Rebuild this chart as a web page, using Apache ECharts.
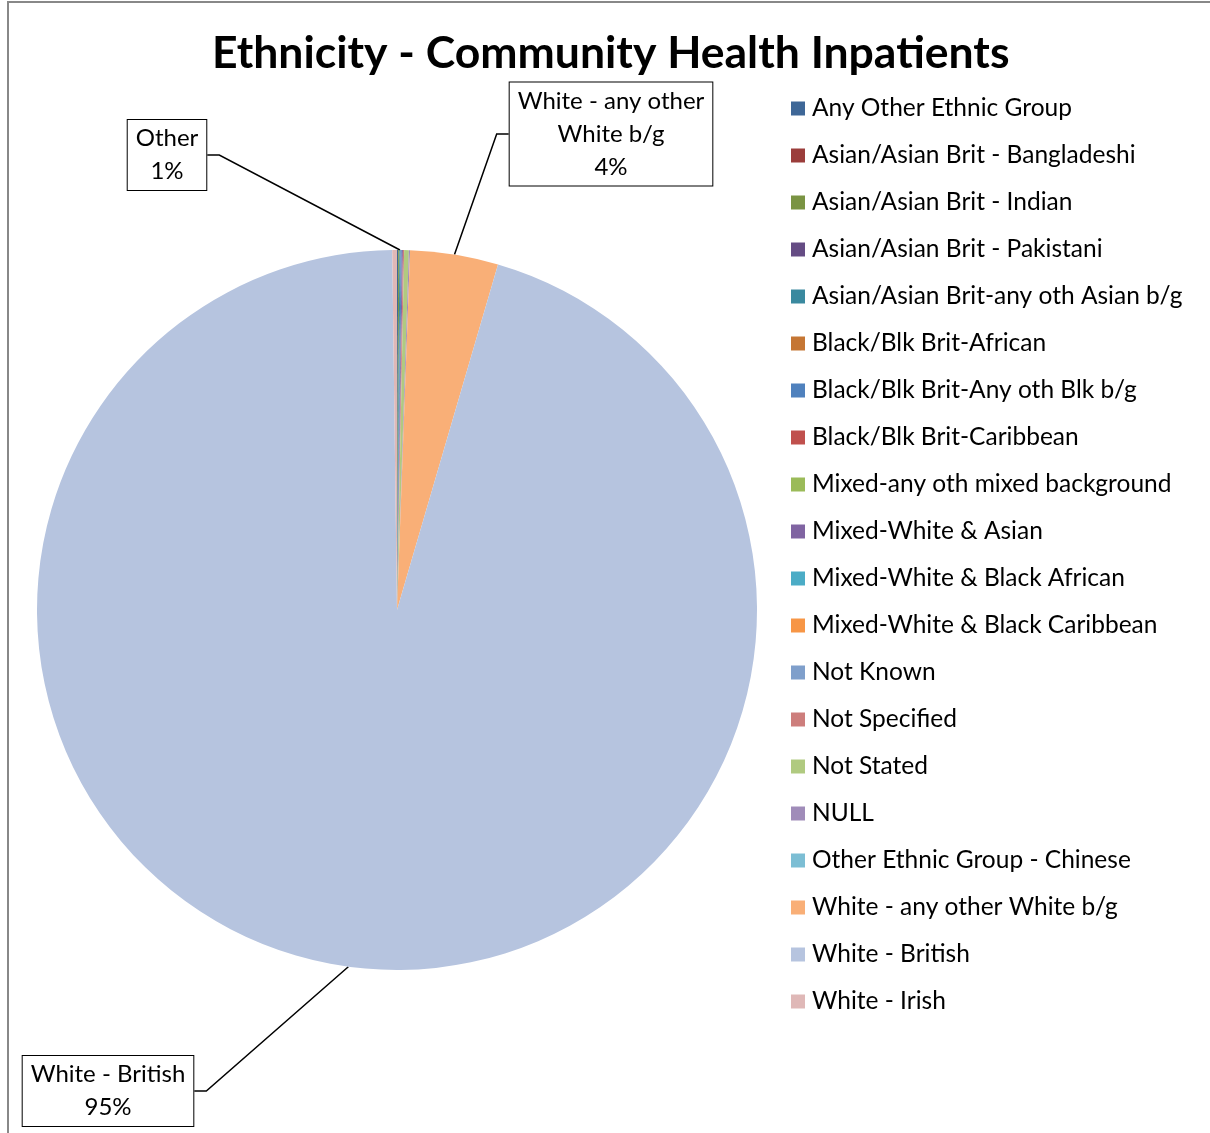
<!DOCTYPE html>
<html>
<head>
<meta charset="utf-8">
<style>
  html, body { margin: 0; padding: 0; background: #fff; }
  #chart { width: 1210px; height: 1133px; }
</style>
<script src="https://cdn.jsdelivr.net/npm/echarts@6/dist/echarts.min.js"></script>
</head>
<body>
<div id="chart"></div>
<script>
// Inpatient counts by recorded ethnicity
const categories = [
  'Any Other Ethnic Group',
  'Asian/Asian Brit - Bangladeshi',
  'Asian/Asian Brit - Indian',
  'Asian/Asian Brit - Pakistani',
  'Asian/Asian Brit-any oth Asian b/g',
  'Black/Blk Brit-African',
  'Black/Blk Brit-Any oth Blk b/g',
  'Black/Blk Brit-Caribbean',
  'Mixed-any oth mixed background',
  'Mixed-White & Asian',
  'Mixed-White & Black African',
  'Mixed-White & Black Caribbean',
  'Not Known',
  'Not Specified',
  'Not Stated',
  'NULL',
  'Other Ethnic Group - Chinese',
  'White - any other White b/g',
  'White - British',
  'White - Irish'
];
const counts = [1, 0, 1, 0, 1, 0, 1, 0, 0, 1, 0, 0, 0, 1, 4, 1, 0, 75, 1810, 4];

const sliceColors = [
  '#3E6797', '#9B3D3B', '#7A9443', '#654C84', '#3A899F', '#C57634',
  '#4F81BD', '#C0504D', '#9BBB59', '#8064A2', '#4BACC6', '#F79646',
  '#7F9FCB', '#CD7E7C', '#B0CA80', '#A08CB9', '#7CBED4', '#F9AF77',
  '#B6C4DF', '#DFB8B7'
];

// Slices with a boxed callout; the "Other" callout sums every remaining group
const calloutWhiteOther = 'White - any other White b/g';
const calloutWhiteBritish = 'White - British';
const calloutOtherAnchor = 'Asian/Asian Brit-any oth Asian b/g';

const total = counts.reduce((a, b) => a + b, 0);
const otherSum = counts.reduce((s, v, i) =>
  (categories[i] === calloutWhiteOther || categories[i] === calloutWhiteBritish) ? s : s + v, 0);

const FONT = 'Lato, "Open Sans", sans-serif';

const boxStyle = {
  show: true,
  color: '#000',
  fontFamily: FONT,
  fontSize: 24,
  lineHeight: 33,
  backgroundColor: '#fff',
  borderColor: '#000',
  borderWidth: 1,
  padding: [3, 8, 1, 8],
  align: 'center'
};

const pieData = categories.map((name, i) => {
  const item = { name: name, value: counts[i], itemStyle: { color: sliceColors[i] } };
  if (name === calloutWhiteBritish) {
    item.label = Object.assign({}, boxStyle, {
      formatter: p => p.name + '\n' + Math.round(p.value / total * 100) + '%'
    });
    item.labelLine = { show: true };
  } else if (name === calloutWhiteOther) {
    item.label = Object.assign({}, boxStyle, {
      formatter: () => 'White - any other\nWhite b/g\n' + Math.round(counts[i] / total * 100) + '%'
    });
    item.labelLine = { show: true };
  } else if (name === calloutOtherAnchor) {
    item.label = Object.assign({}, boxStyle, {
      formatter: () => 'Other\n' + Math.max(1, Math.round(otherSum / total * 100)) + '%'
    });
    item.labelLine = { show: true };
  } else {
    item.label = { show: false };
    item.labelLine = { show: false };
  }
  return item;
});

// Callout box centres
const calloutPos = {};
calloutPos[calloutWhiteBritish] = [108, 1091];
calloutPos[calloutWhiteOther] = [611, 134];
calloutPos[calloutOtherAnchor] = [167, 155];

const chart = echarts.init(document.getElementById('chart'), null, { renderer: 'canvas' });

chart.setOption({
  animation: false,
  backgroundColor: '#fff',
  color: sliceColors,
  title: {
    text: 'Ethnicity - Community Health Inpatients',
    left: 212,
    top: 31,
    padding: 0,
    textStyle: { fontFamily: FONT, fontSize: 44.5, fontWeight: 'bold', color: '#000' }
  },
  legend: {
    orient: 'vertical',
    left: 791,
    top: 96,
    padding: 0,
    itemWidth: 14,
    itemHeight: 14,
    itemGap: 22,
    icon: 'rect',
    data: categories,
    textStyle: { fontFamily: FONT, fontSize: 24.5, lineHeight: 24, color: '#000', padding: [0, 0, 0, 2] }
  },
  graphic: [{
    type: 'polyline',
    silent: true,
    shape: { points: [[8, 1140], [8, 2], [1220, 2]] },
    style: { stroke: '#888', lineWidth: 2, fill: null }
  }],
  series: [{
    type: 'pie',
    center: [397, 610],
    radius: 360,
    startAngle: 90,
    clockwise: true,
    avoidLabelOverlap: false,
    stillShowZeroSum: false,
    itemStyle: { borderWidth: 0 },
    labelLine: { lineStyle: { color: '#000', width: 1.5 }, length: 10, length2: 12 },
    emphasis: { disabled: true },
    labelLayout: function (params) {
      const name = categories[params.dataIndex];
      const pos = calloutPos[name];
      if (!pos) return {};
      return { x: pos[0], y: pos[1], align: 'center', verticalAlign: 'middle' };
    },
    data: pieData
  }]
});
</script>
</body>
</html>
